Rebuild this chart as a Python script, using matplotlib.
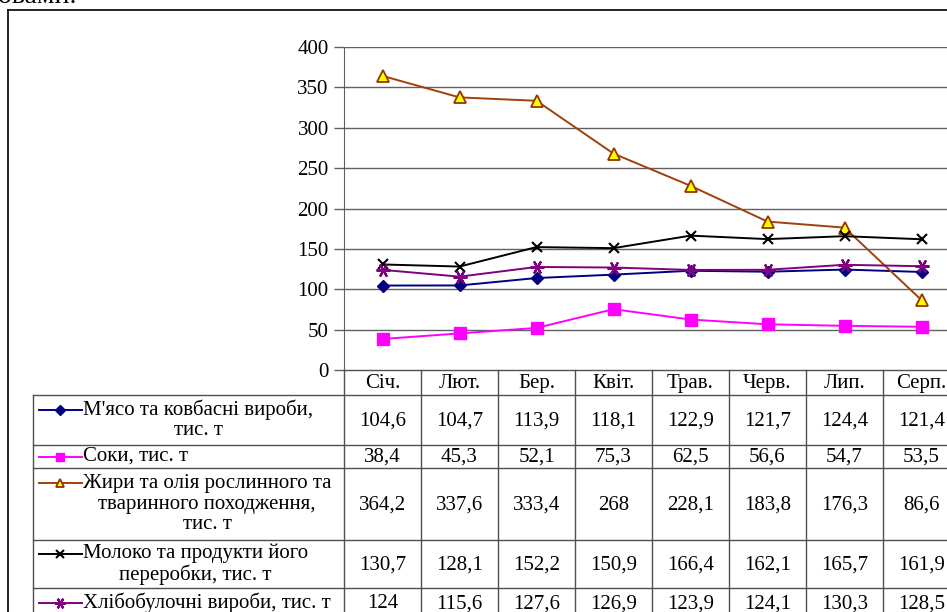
import matplotlib
matplotlib.use('Agg')
import matplotlib.pyplot as plt

plt.rcParams['font.family'] = ['Liberation Serif', 'DejaVu Serif']

# ── Data ──────────────────────────────────────────────────────────────────────
months = ['Січ.', 'Лют.', 'Бер.', 'Квіт.', 'Трав.', 'Черв.', 'Лип.', 'Серп.']
meat   = [104.6, 104.7, 113.9, 118.1, 122.9, 121.7, 124.4, 121.4]
juice  = [38.4, 45.3, 52.1, 75.3, 62.5, 56.6, 54.7, 53.5]
fats   = [364.2, 337.6, 333.4, 268, 228.1, 183.8, 176.3, 86.6]
milk   = [130.7, 128.1, 152.2, 150.9, 166.4, 162.1, 165.7, 161.9]
bread  = [124, 115.6, 127.6, 126.9, 123.9, 124.1, 130.3, 128.5]

labels = [
    "М'ясо та ковбасні вироби,\nтис. т",
    'Соки, тис. т',
    'Жири та олія рослинного та\nтваринного походження,\nтис. т',
    'Молоко та продукти його\nпереробки, тис. т',
    'Хлібобулочні вироби, тис. т',
]
yticks = [0, 50, 100, 150, 200, 250, 300, 350, 400]

# ── Styles ────────────────────────────────────────────────────────────────────
styles = [
    dict(color='#000080', marker='D', ms=6.5, mfc='#000080', mec='#000080', mew=1),
    dict(color='#FF00FF', marker='s', ms=8, mfc='#FF00FF', mec='#FF00FF', mew=1),
    dict(color='#A0400A', marker='^', ms=8, mfc='#FFFF00', mec='#993300', mew=1.3),
    dict(color='#000000', marker='x', ms=7, mfc='none', mec='#000000', mew=1.5),
    dict(color='#800080', marker=(6, 2, 90), ms=10, mfc='none', mec='#800080', mew=1.6),
]
series = [meat, juice, fats, milk, bread]

W, H = 947, 612
FS = 15
GRID = '#606060'
fig = plt.figure(figsize=(W / 100, H / 100), dpi=100)

X0, COLW = 344, 77
Y_TOP, Y_BOT = 47, 370
ncol = len(months)

# ── Chart ─────────────────────────────────────────────────────────────────────
ax = fig.add_axes([X0 / W, 1 - Y_BOT / H, ncol * COLW / W, (Y_BOT - Y_TOP) / H])
ax.set_xlim(-0.5, ncol - 0.5)
ax.set_ylim(0, 400)
ax.set_yticks(yticks)
ax.set_xticks([])
ax.tick_params(axis='y', direction='out', length=7, width=1, color=GRID,
               pad=4, labelsize=FS)
for s in ['top', 'right', 'bottom']:
    ax.spines[s].set_visible(False)
ax.spines['left'].set_color(GRID)
for v in yticks[1:]:
    ax.axhline(v, color=GRID, lw=1, zorder=1)

x = list(range(ncol))
for vals, st in zip(series, styles):
    ax.plot(x, vals, lw=1.4, zorder=3, **st)

# ── Table (overlay in pixel coords) ───────────────────────────────────────────
ov = fig.add_axes([0, 0, 1, 1])
ov.set_xlim(0, W)
ov.set_ylim(H, 0)
ov.axis('off')

rows = [370, 395, 445, 468, 540, 588, 618]
TL = 33
LC = '#505050'
col_edges = [X0 + i * COLW for i in range(ncol + 1)]

# horizontal lines
ov.plot([X0, W + 20], [rows[0], rows[0]], color=LC, lw=1)
for y in rows[1:-1]:
    ov.plot([TL, W + 20], [y, y], color=LC, lw=1)
# vertical lines
for xe in col_edges:
    ov.plot([xe, xe], [rows[0], H + 20], color=LC, lw=1)
ov.plot([TL, TL], [rows[1], H + 20], color=LC, lw=1)

# header
for i, m in enumerate(months):
    ov.text(X0 + (i + 0.5) * COLW, (rows[0] + rows[1]) / 2 + 1, m,
            ha='center', va='center', fontsize=FS)

LSP = 21
for r, (lab, vals, st) in enumerate(zip(labels, series, styles)):
    yc = (rows[r + 1] + rows[r + 2]) / 2
    nl = lab.count('\n') + 1
    y1 = yc - (nl - 1) / 2 * LSP
    ov.text(83, yc, lab, ha='left', va='center', multialignment='center',
            fontsize=FS, linespacing=1.08)
    ov.plot([39, 82], [y1, y1], color=st['color'], lw=1.4)
    ms = st['ms'] * 0.8
    ov.plot([60], [y1], linestyle='none', marker=st['marker'], ms=ms,
            mfc=st['mfc'], mec=st['mec'], mew=st['mew'])
    for i, v in enumerate(vals):
        txt = f'{v:g}'.replace('.', ',')
        ov.text(X0 + (i + 0.5) * COLW, yc + 1, txt, ha='center', va='center',
                fontsize=FS)

# outer frame and cut-off caption
ov.plot([8, 8], [10, H + 20], color='black', lw=1.2)
ov.plot([8, W + 20], [10, 10], color='black', lw=1.2)
ov.text(-2, 3, 'овами.', ha='left', va='baseline', fontsize=20)

fig.savefig('out.png', dpi=100)
